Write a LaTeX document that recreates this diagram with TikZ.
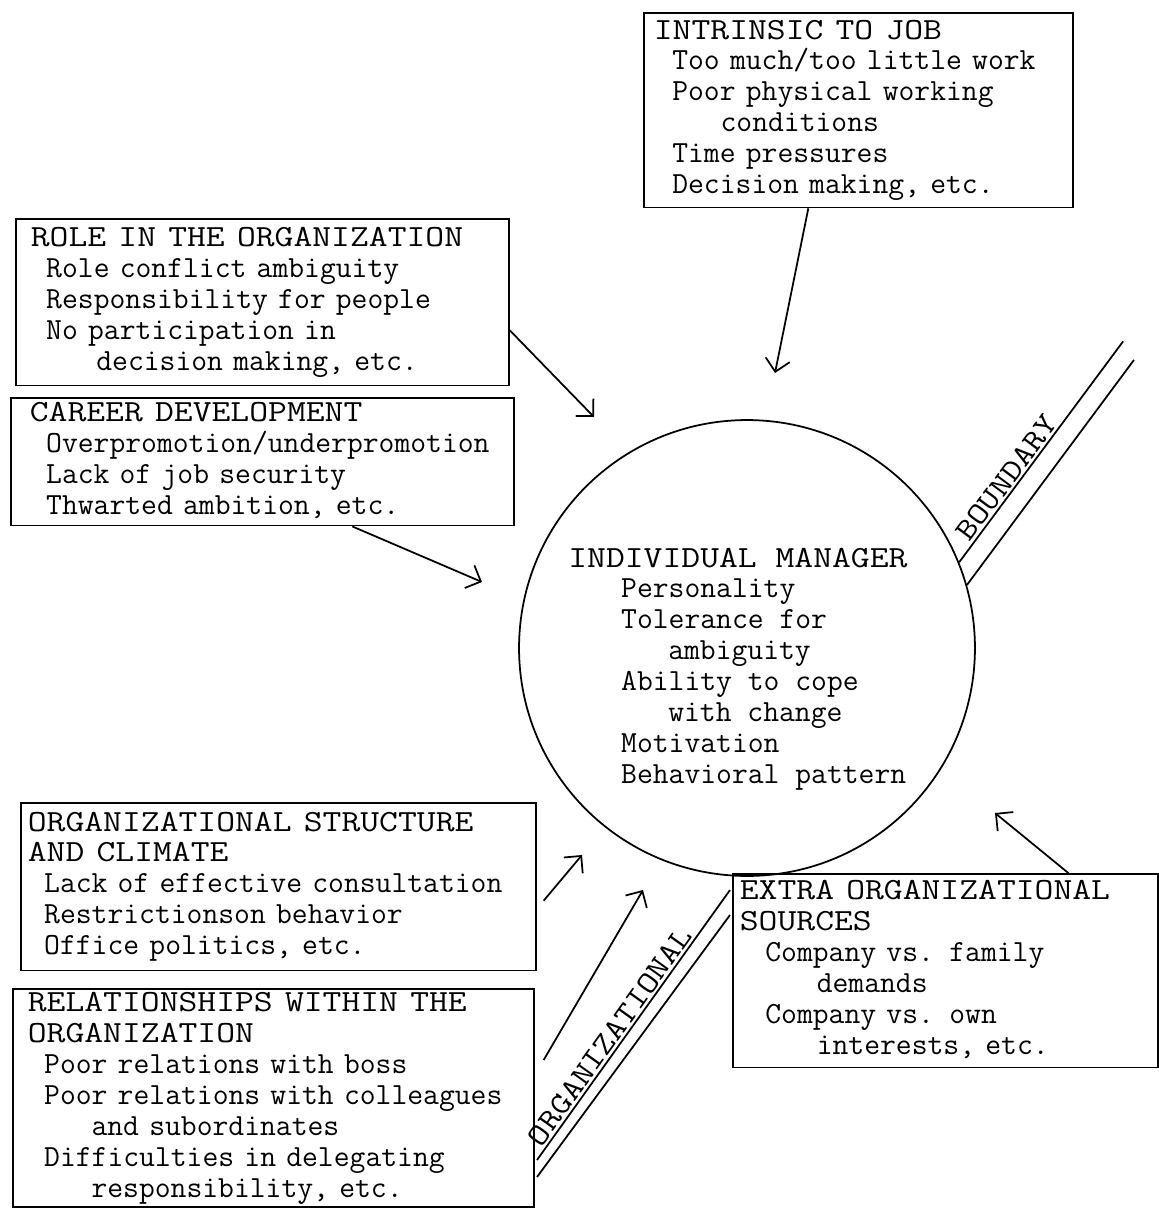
\documentclass[tikz,border=0pt]{standalone}
\usepackage{graphicx}
\usetikzlibrary{arrows.meta,calc}
\newcommand\hd[1]{\scalebox{1.19}[1]{#1}}
\newcommand\lb[1]{\scalebox{1.175}[1]{#1}}
\newcommand\itm[2]{\mbox{\hspace{#1em}#2}}

\begin{document}
\begin{tikzpicture}[x=0.02cm,y=-0.02cm,
  txt/.style={align=left,font=\ttfamily\fontsize{17.5}{17.6}\selectfont},
  box/.style={txt,draw,line width=1pt,anchor=north west},
  arr/.style={line width=1pt,-{Straight Barb[length=7pt,width=14pt,line width=1pt]}},
  bline/.style={line width=1pt},
  lbl/.style={txt,sloped,above,inner sep=1pt}]
\useasboundingbox (0,0) rectangle (1159,1208);

\node[box,inner xsep=0.2cm,inner ysep=0.09cm,text width=8.18cm] (job) at (643,12)
  {\strut\hd{INTRINSIC TO JOB}\\ \itm{.6}{Too much/too little work}\\ \itm{.6}{Poor physical working}\\
   \itm{2.17}{conditions}\\ \itm{.6}{Time pressures}\\ \itm{.6}{Decision making, etc.}\strut};
\node[box,inner xsep=0.3cm,inner ysep=0.12cm,text width=9.26cm] (role) at (15,218)
  {\strut\hd{ROLE IN THE ORGANIZATION}\\ \itm{.5}{Role conflict ambiguity}\\ \itm{.5}{Responsibility for people}\\
   \itm{.5}{No participation in}\\ \itm{2.13}{decision making, etc.}\strut};
\node[box,inner xsep=0.38cm,inner ysep=0.04cm,text width=9.3cm] (career) at (10,397)
  {\strut\hd{CAREER DEVELOPMENT}\\ \itm{.53}{Overpromotion/underpromotion}\\ \itm{.53}{Lack of job security}\\
   \itm{.53}{Thwarted ambition, etc.}\strut};
\node[box,inner xsep=0.14cm,inner ysep=0.13cm,text width=10.02cm] (org) at (20,802)
  {\strut\hd{ORGANIZATIONAL STRUCTURE}\\ \hd{AND CLIMATE}\\ \itm{.53}{Lack of effective consultation}\\
   \itm{.53}{Restrictionson behavior}\\ \itm{.53}{Office politics, etc.}\strut};
\node[box,inner xsep=0.3cm,inner ysep=0.02cm,text width=9.82cm] (rel) at (12,988)
  {\strut\hd{RELATIONSHIPS WITHIN THE}\\ \hd{ORGANIZATION}\\ \itm{.53}{Poor relations with boss}\\
   \itm{.53}{Poor relations with colleagues}\\ \itm{2.07}{and subordinates}\\
   \itm{.53}{Difficulties in delegating}\\ \itm{2.07}{responsibility, etc.}\strut};
\node[box,inner xsep=0.14cm,inner ysep=0.08cm,text width=8.22cm] (extra) at (732,873)
  {\strut\hd{EXTRA ORGANIZATIONAL}\\ \hd{SOURCES}\\ \itm{.83}{Company vs. family}\\ \itm{2.5}{demands}\\
   \itm{.83}{Company vs. own}\\ \itm{2.5}{interests, etc.}\strut};

\node[circle,draw,line width=1pt,minimum size=9.12cm,inner sep=0pt] (mgr) at (747,648) {};
\node[txt,anchor=north west,inner sep=0pt] (mgrtxt) at (568,545)
  {\strut\hd{INDIVIDUAL MANAGER}\\ \itm{1.72}{Personality}\\ \itm{1.72}{Tolerance for}\\ \itm{3.25}{ambiguity}\\
   \itm{1.72}{Ability to cope}\\ \itm{3.25}{with change}\\ \itm{1.72}{Motivation}\\ \itm{1.72}{Behavioral pattern}\strut};

\coordinate (tjob) at (775,373);
\coordinate (trole) at (594,417);
\coordinate (tcar) at (482,582);
\coordinate (torg) at (582,855);
\coordinate (trel) at (643,890);
\coordinate (textra) at (995,813);
\draw[arr] ($(job.south)+(-50,0)$) -- (tjob);
\draw[arr] ($(role.east)+(0,28)$) -- (trole);
\draw[arr] ($(career.south)+(90,0)$) -- (tcar);
\draw[arr] ($(org.east)+(7,14)$) -- (torg);
\draw[arr] ($(rel.north east)+(9,72)$) -- (trel);
\draw[arr] ($(extra.north)+(123,0)$) -- (textra);

\draw[bline] (mgr.22) -- node[lbl,pos=.35] (bnd) {\lb{BOUNDARY}} ++(164,-221);
\draw[bline] (mgr.16.6) -- ++(167,-225);
\draw[bline] (537,1160) -- node[lbl,pos=.43] (orgl) {\lb{ORGANIZATIONAL}} (730,890);
\draw[bline] (537,1177) -- (730,915);
\end{tikzpicture}
\end{document}
